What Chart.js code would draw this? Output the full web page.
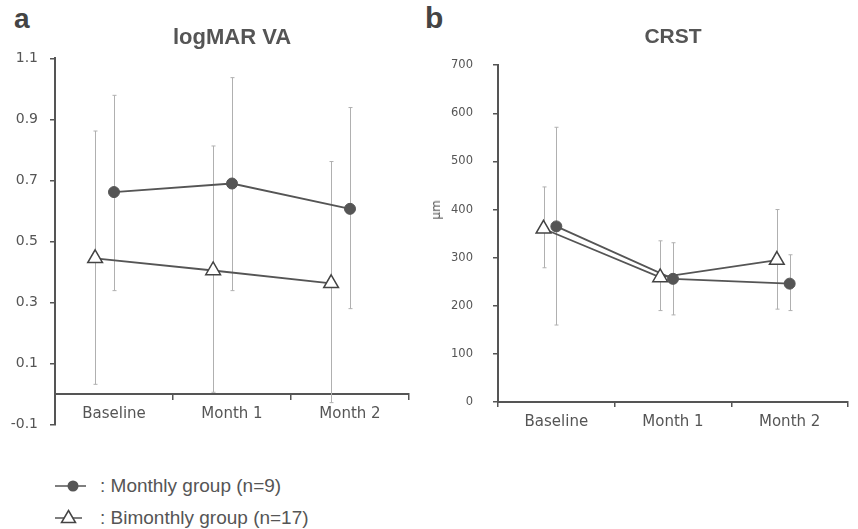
<!DOCTYPE html>
<html>
<head>
<meta charset="utf-8">
<script src="https://cdn.jsdelivr.net/npm/chart.js"></script>
<style>
  body { margin: 0; background: #fff; width: 858px; height: 529px; position: relative; overflow: hidden; }
  .panel { position: absolute; top: 0; }
  .letter { position: absolute; font: bold 28px "Liberation Sans", Arial, sans-serif; color: #444; line-height: 1; }
  .unit { position: absolute; font: 12px "DejaVu Sans", sans-serif; color: #555; transform: translate(-50%, -50%) rotate(-90deg); }
  .legend-row { position: absolute; left: 0; height: 30px; }
  .legend-row svg { position: absolute; left: 50px; top: 0; }
  .legend-row span { position: absolute; left: 100px; font: 19px "Liberation Sans", Arial, sans-serif; color: #555; line-height: 1; white-space: nowrap; }
</style>
</head>
<body>
<div class="letter" style="left:14px; top:5px;">a</div>
<div class="letter" style="left:425px; top:3px; font-size:30px;">b</div>
<div class="panel" style="left:0; width:430px; height:445px;"><canvas id="vaChart"></canvas></div>
<div class="panel" style="left:430px; width:428px; height:445px;"><canvas id="crstChart"></canvas></div>
<div class="unit" style="left:436px; top:210px;">μm</div>

<div class="legend-row" style="top:471px;">
  <svg width="45" height="30"><line x1="5" y1="15" x2="36" y2="15" stroke="#555" stroke-width="1.5"/><circle cx="23" cy="15" r="5.5" fill="#555"/></svg>
  <span style="top:5px;">: Monthly group (n=9)</span>
</div>
<div class="legend-row" style="top:503px;">
  <svg width="45" height="30"><line x1="5" y1="15" x2="32" y2="15" stroke="#555" stroke-width="1.5"/><polygon points="18.5,7.5 25.5,19.5 11.5,19.5" fill="#fff" stroke="#444" stroke-width="1.5"/></svg>
  <span style="top:5px;">: Bimonthly group (n=17)</span>
</div>

<script>
const categories = ['Baseline', 'Month 1', 'Month 2'];

// logMAR VA (mean, lower and upper end of the error bar)
const vaMonthly = [0.662, 0.690, 0.607];
const vaMonthlyLow = [0.339, 0.339, 0.280];
const vaMonthlyHigh = [0.979, 1.037, 0.939];
const vaBimonthly = [0.445, 0.405, 0.363];
const vaBimonthlyLow = [0.032, 0.006, -0.028];
const vaBimonthlyHigh = [0.862, 0.813, 0.762];
const vaTicks = [-0.1, 0.1, 0.3, 0.5, 0.7, 0.9, 1.1];

// CRST in µm
const crstMonthly = [365, 256, 246];
const crstMonthlyLow = [160, 181, 190];
const crstMonthlyHigh = [571, 331, 306];
const crstBimonthly = [360, 259, 295];
const crstBimonthlyLow = [279, 190, 193];
const crstBimonthlyHigh = [447, 335, 400];
const crstTicks = [0, 100, 200, 300, 400, 500, 600, 700];

const AXIS_COLOR = '#555';
const TEXT_COLOR = '#555';
const ERR_COLOR = '#b0b0b0';

// draws the vertical sd bars behind the points
const errorBars = {
    id: 'errorBars',
    beforeDatasetsDraw(chart) {
        const ctx = chart.ctx;
        const yScale = chart.scales.y;
        ctx.save();
        ctx.strokeStyle = ERR_COLOR;
        ctx.lineWidth = 1;
        chart.data.datasets.forEach((ds, di) => {
            const meta = chart.getDatasetMeta(di);
            meta.data.forEach((pt, i) => {
                const x = Math.round(pt.x) + 0.5;
                const top = yScale.getPixelForValue(ds.errHigh[i]);
                const bottom = yScale.getPixelForValue(ds.errLow[i]);
                ctx.beginPath();
                ctx.moveTo(x, top);
                ctx.lineTo(x, bottom);
                ctx.moveTo(x - 2, top);
                ctx.lineTo(x + 2, top);
                ctx.moveTo(x - 2, bottom);
                ctx.lineTo(x + 2, bottom);
                ctx.stroke();
            });
        });
        ctx.restore();
    }
};

function series(values, dodge) {
    return values.map((v, i) => ({ x: i + dodge, y: v }));
}

function monthlySet(values, low, high) {
    return {
        data: series(values, 0),
        errLow: low,
        errHigh: high,
        borderColor: '#555',
        borderWidth: 1.8,
        pointStyle: 'circle',
        pointRadius: 5.5,
        pointBackgroundColor: '#555',
        pointBorderColor: '#555',
        pointBorderWidth: 1
    };
}

function bimonthlySet(values, low, high, dodge) {
    return {
        data: series(values, dodge),
        errLow: low,
        errHigh: high,
        borderColor: '#555',
        borderWidth: 1.8,
        pointStyle: 'triangle',
        pointRadius: 8.5,
        pointBackgroundColor: '#fff',
        pointBorderColor: '#444',
        pointBorderWidth: 1.5
    };
}

function xAxis(extra) {
    return Object.assign({
        type: 'linear',
        min: -0.5,
        max: 2.5,
        afterBuildTicks: (scale) => { scale.ticks = categories.map((c, i) => ({ value: i })); },
        ticks: {
            callback: (value) => categories[value],
            autoSkip: false,
            maxRotation: 0,
            padding: 6,
            color: TEXT_COLOR,
            font: { family: 'DejaVu Sans', size: 15 }
        },
        grid: { offset: true, drawOnChartArea: false, tickLength: 5, color: AXIS_COLOR, lineWidth: 1.5 },
        border: { color: AXIS_COLOR, width: 2 }
    }, extra);
}

function yAxis(tickValues, width, pad, fontSize, extra) {
    return Object.assign({
        type: 'linear',
        min: tickValues[0],
        max: tickValues[tickValues.length - 1],
        afterBuildTicks: (scale) => { scale.ticks = tickValues.map(v => ({ value: v })); },
        afterFit: (scale) => { scale.width = width; },
        ticks: {
            padding: pad,
            color: TEXT_COLOR,
            font: { family: 'DejaVu Sans', size: fontSize },
            callback: (value) => String(value)
        },
        grid: { drawOnChartArea: false, tickLength: 5, color: AXIS_COLOR, lineWidth: 1.5 },
        border: { color: AXIS_COLOR, width: 2 }
    }, extra);
}

function titleOpts(text, size, top, bottom) {
    return {
        display: true,
        text: text,
        fullSize: false,
        color: TEXT_COLOR,
        font: { family: 'Liberation Sans', size: size, weight: 'bold' },
        padding: { top: top, bottom: bottom }
    };
}

new Chart(document.getElementById('vaChart'), {
    type: 'line',
    data: {
        datasets: [
            bimonthlySet(vaBimonthly, vaBimonthlyLow, vaBimonthlyHigh, -0.16),
            monthlySet(vaMonthly, vaMonthlyLow, vaMonthlyHigh)
        ]
    },
    options: {
        responsive: true,
        maintainAspectRatio: false,
        animation: false,
        layout: { padding: { left: 0, right: 21, top: 0, bottom: 10 } },
        scales: {
            x: xAxis({ position: { y: 0 } }),
            y: yAxis(vaTicks, 55, 12, 14)
        },
        plugins: {
            legend: { display: false },
            tooltip: { enabled: false },
            title: titleOpts('logMAR VA', 22, 25, 7)
        }
    },
    plugins: [errorBars]
});

new Chart(document.getElementById('crstChart'), {
    type: 'line',
    data: {
        datasets: [
            bimonthlySet(crstBimonthly, crstBimonthlyLow, crstBimonthlyHigh, -0.11),
            monthlySet(crstMonthly, crstMonthlyLow, crstMonthlyHigh)
        ]
    },
    options: {
        responsive: true,
        maintainAspectRatio: false,
        animation: false,
        layout: { padding: { left: 0, right: 9, top: 0, bottom: 0 } },
        scales: {
            x: xAxis({ position: 'bottom', afterFit: (scale) => { scale.height = 43; } }),
            y: yAxis(crstTicks, 68, 20, 11.5)
        },
        plugins: {
            legend: { display: false },
            tooltip: { enabled: false },
            title: titleOpts('CRST', 21, 25, 15)
        }
    },
    plugins: [errorBars]
});
</script>
</body>
</html>
